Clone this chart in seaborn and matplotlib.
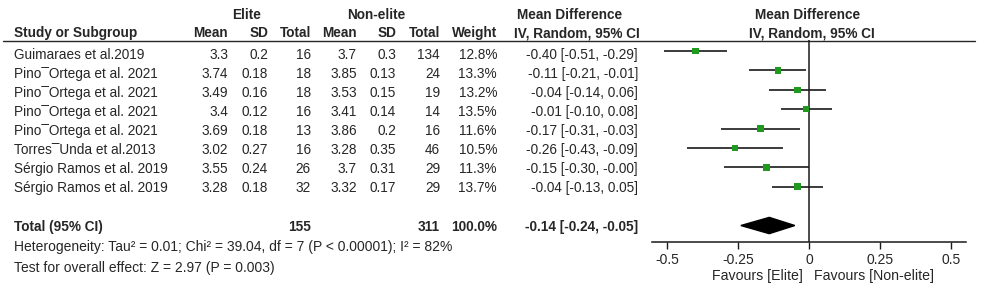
"""
Forest plot: elite vs non-elite, mean difference (IV, random, 95% CI)
"""
import matplotlib.pyplot as plt
import pandas as pd
import seaborn as sns

studies = [
    "Guimaraes et al.2019",
    "Pino\u00afOrtega et al. 2021",
    "Pino\u00afOrtega et al. 2021",
    "Pino\u00afOrtega et al. 2021",
    "Pino\u00afOrtega et al. 2021",
    "Torres\u00afUnda et al.2013",
    "Sérgio Ramos et al. 2019",
    "Sérgio Ramos et al. 2019",
]
elite_mean = ["3.3", "3.74", "3.49", "3.4", "3.69", "3.02", "3.55", "3.28"]
elite_sd = ["0.2", "0.18", "0.16", "0.12", "0.18", "0.27", "0.24", "0.18"]
elite_n = [16, 18, 18, 16, 13, 16, 26, 32]
non_mean = ["3.7", "3.85", "3.53", "3.41", "3.86", "3.28", "3.7", "3.32"]
non_sd = ["0.3", "0.13", "0.15", "0.14", "0.2", "0.35", "0.31", "0.17"]
non_n = [134, 24, 19, 14, 16, 46, 29, 29]
weight = [12.8, 13.3, 13.2, 13.5, 11.6, 10.5, 11.3, 13.7]
md = [-0.40, -0.11, -0.04, -0.01, -0.17, -0.26, -0.15, -0.04]
ci_lo = [-0.51, -0.21, -0.14, -0.10, -0.31, -0.43, -0.30, -0.13]
ci_hi = [-0.29, -0.01, 0.06, 0.08, -0.03, -0.09, -0.00, 0.05]

total_elite = 155
total_non = 311
total_md, total_lo, total_hi = -0.14, -0.24, -0.05
heterogeneity = "Heterogeneity: Tau\u00b2 = 0.01; Chi\u00b2 = 39.04, df = 7 (P < 0.00001); I\u00b2 = 82%"
overall = "Test for overall effect: Z = 2.97 (P = 0.003)"

xticks = [-0.5, -0.25, 0, 0.25, 0.5]
xticklabels = ["-0.5", "-0.25", "0", "0.25", "0.5"]

df = pd.DataFrame({"study": studies, "md": md, "lo": ci_lo, "hi": ci_hi})
df["row"] = range(len(df))

sns.set_theme(style="white")
plt.rcParams["font.family"] = ["Liberation Sans", "DejaVu Sans"]
txt = "#262626"
fs = 9.8

fig = plt.figure(figsize=(9.84, 2.91), dpi=100)

# table part, in pixel coordinates
tab = fig.add_axes([0, 0, 1, 1])
tab.set_xlim(0, 984)
tab.set_ylim(291, 0)
tab.axis("off")

def put(x, y, s, ha="right", bold=False, size=fs):
    tab.text(x, y, s, ha=ha, va="center", fontsize=size, color=txt,
             fontweight="bold" if bold else "normal")

put(247, 15, "Elite", ha="center", bold=True)
put(376, 15, "Non-elite", ha="center", bold=True)
put(570, 15, "Mean Difference", ha="center", bold=True)
put(808, 15, "Mean Difference", ha="center", bold=True)
put(14, 33, "Study or Subgroup", ha="left", bold=True)
for x, s in [(228, "Mean"), (268, "SD"), (311, "Total"), (357, "Mean"),
             (396, "SD"), (440, "Total"), (497, "Weight"),
             (640, "IV, Random, 95% CI")]:
    put(x, 33, s, bold=True)
put(812, 33, "IV, Random, 95% CI", ha="center", bold=True)
tab.plot([3, 975], [40.5, 40.5], color=txt, lw=1)

for i in range(len(studies)):
    y = 55 + 19 * i
    put(14, y, studies[i], ha="left")
    put(228, y, elite_mean[i])
    put(268, y, elite_sd[i])
    put(311, y, str(elite_n[i]))
    put(357, y, non_mean[i])
    put(396, y, non_sd[i])
    put(440, y, str(non_n[i]))
    put(497, y, f"{weight[i]:.1f}%")
    put(638, y, f"{md[i]:.2f} [{ci_lo[i]:.2f}, {ci_hi[i]:.2f}]")

put(14, 227, "Total (95% CI)", ha="left", bold=True)
put(311, 227, str(total_elite), bold=True)
put(440, 227, str(total_non), bold=True)
put(497, 227, "100.0%", bold=True)
put(638, 227, f"{total_md:.2f} [{total_lo:.2f}, {total_hi:.2f}]", bold=True)
put(14, 247, heterogeneity, ha="left", size=10)
put(14, 268, overall, ha="left", size=10)
put(757, 276, "Favours [Elite]", ha="center", size=10.2)
put(874, 276, "Favours [Non-elite]", ha="center", size=10.2)

# forest part
ax = fig.add_axes([652 / 984, (291 - 242) / 291, (966 - 652) / 984, (242 - 40) / 291])
ax.hlines(df["row"], df["lo"], df["hi"], color="#1a1a1a", lw=1.2, zorder=2)
sns.scatterplot(data=df, x="md", y="row", marker="s", s=22, color="#1f9a1f",
                edgecolor="none", ax=ax, zorder=3)
drow = len(studies) + 1
ax.fill([total_lo, total_md, total_hi, total_md],
        [drow, drow - 0.42, drow, drow + 0.42], color="black", zorder=3)
ax.axvline(0, color="#1a1a1a", lw=1.1, zorder=1)

ax.set_xlim(-0.553, 0.553)
ax.set_ylim(9.85, -0.57)
ax.set_xticks(xticks)
ax.set_xticklabels(xticklabels)
ax.set_yticks([])
ax.set_xlabel("")
ax.set_ylabel("")
for side in ["left", "top", "right"]:
    ax.spines[side].set_visible(False)
ax.spines["bottom"].set_color("#1a1a1a")
ax.spines["bottom"].set_linewidth(1.1)
ax.tick_params(axis="x", bottom=True, direction="out", length=5, width=1,
               color="#1a1a1a", pad=3, labelsize=10, labelcolor=txt)
ax.patch.set_alpha(0)

fig.savefig("out.png", dpi=100)
